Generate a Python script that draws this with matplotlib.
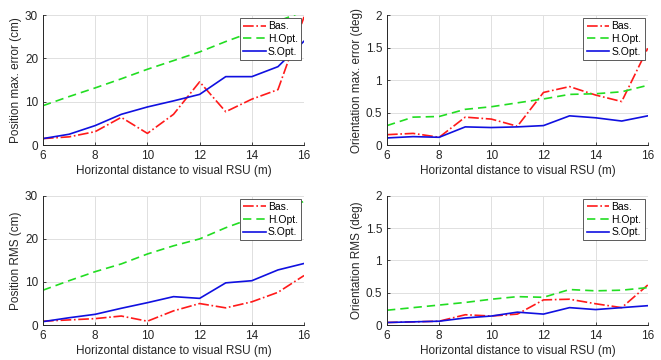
import numpy as np
import matplotlib
matplotlib.use('Agg')
import matplotlib.pyplot as plt

plt.rcParams['font.family'] = ['Liberation Sans', 'DejaVu Sans']
plt.rcParams['font.size'] = 8

dist = [6, 7, 8, 9, 10, 11, 12, 13, 14, 15, 16]
series_names = ['Bas.', 'H.Opt.', 'S.Opt.']

# position max error (cm)
pos_max_bas = [1.5, 1.9, 3.1, 6.4, 2.7, 7.1, 14.6, 7.7, 10.6, 12.8, 29.6]
pos_max_hopt = [9.1, 11.2, 13.2, 15.3, 17.5, 19.5, 21.5, 23.9, 26.1, 28.6, 30.9]
pos_max_sopt = [1.5, 2.5, 4.5, 7.1, 8.8, 10.2, 11.7, 15.8, 15.8, 18.1, 24.0]

# orientation max error (deg)
ori_max_bas = [0.16, 0.18, 0.12, 0.43, 0.40, 0.29, 0.81, 0.90, 0.77, 0.67, 1.49]
ori_max_hopt = [0.30, 0.43, 0.44, 0.55, 0.59, 0.65, 0.71, 0.78, 0.79, 0.82, 0.92]
ori_max_sopt = [0.11, 0.13, 0.12, 0.28, 0.27, 0.28, 0.30, 0.45, 0.42, 0.37, 0.45]

# position RMS (cm)
pos_rms_bas = [0.9, 1.2, 1.5, 2.1, 0.9, 3.3, 5.0, 4.0, 5.4, 7.6, 11.5]
pos_rms_hopt = [8.1, 10.3, 12.4, 14.2, 16.5, 18.4, 20.0, 22.6, 24.8, 26.8, 28.7]
pos_rms_sopt = [0.8, 1.7, 2.5, 3.9, 5.2, 6.6, 6.2, 9.8, 10.3, 12.8, 14.3]

# orientation RMS (deg)
ori_rms_bas = [0.04, 0.05, 0.06, 0.16, 0.14, 0.17, 0.39, 0.40, 0.33, 0.27, 0.62]
ori_rms_hopt = [0.23, 0.27, 0.31, 0.35, 0.40, 0.44, 0.43, 0.55, 0.53, 0.54, 0.58]
ori_rms_sopt = [0.04, 0.05, 0.06, 0.11, 0.14, 0.20, 0.17, 0.27, 0.24, 0.27, 0.30]

fig = plt.figure(figsize=(6.61, 3.6), dpi=100)

panels = [
    ([0.065, 0.597, 0.395, 0.361], pos_max_bas, pos_max_hopt, pos_max_sopt,
     'Position max. error (cm)', 30, [0, 10, 20, 30]),
    ([0.5855, 0.597, 0.3945, 0.361], ori_max_bas, ori_max_hopt, ori_max_sopt,
     'Orientation max. error (deg)', 2, [0, 0.5, 1, 1.5, 2]),
    ([0.065, 0.097, 0.395, 0.359], pos_rms_bas, pos_rms_hopt, pos_rms_sopt,
     'Position RMS (cm)', 30, [0, 10, 20, 30]),
    ([0.5855, 0.097, 0.3945, 0.359], ori_rms_bas, ori_rms_hopt, ori_rms_sopt,
     'Orientation RMS (deg)', 2, [0, 0.5, 1, 1.5, 2]),
]

for rect, bas, hopt, sopt, ylab, ymax, yt in panels:
    ax = fig.add_axes(rect)
    ax.plot(dist, bas, color='#ff1a1a', linestyle='-.', linewidth=1.2, label=series_names[0])
    ax.plot(dist, hopt, color='#22dd22', linestyle=(0, (5, 3)), linewidth=1.2, label=series_names[1])
    ax.plot(dist, sopt, color='#1010e0', linestyle='-', linewidth=1.2, label=series_names[2])
    ax.set_xlim(6, 16)
    ax.set_ylim(0, ymax)
    ax.set_xticks([6, 8, 10, 12, 14, 16])
    ax.set_yticks(yt)
    ax.set_yticklabels([('%g' % v) for v in yt])
    ax.grid(True, color='#e0e0e0', linewidth=0.7)
    ax.set_axisbelow(True)
    for s in ['top', 'right']:
        ax.spines[s].set_visible(False)
    for s in ['left', 'bottom']:
        ax.spines[s].set_color('#262626')
        ax.spines[s].set_linewidth(0.7)
    ax.tick_params(direction='in', length=2.5, width=0.6, colors='#262626', labelsize=8.5)
    ax.set_xlabel('Horizontal distance to visual RSU (m)', fontsize=8.5, color='#262626', labelpad=2)
    ax.set_ylabel(ylab, fontsize=8.5, color='#262626', labelpad=2)
    leg = ax.legend(loc='upper right', fontsize=7.5, fancybox=False, framealpha=1,
                    edgecolor='#404040', handlelength=2.2, handletextpad=0.2,
                    borderpad=0.3, labelspacing=0.25, borderaxespad=0.3)
    leg.get_frame().set_linewidth(0.6)

fig.savefig('out.png', dpi=100)
